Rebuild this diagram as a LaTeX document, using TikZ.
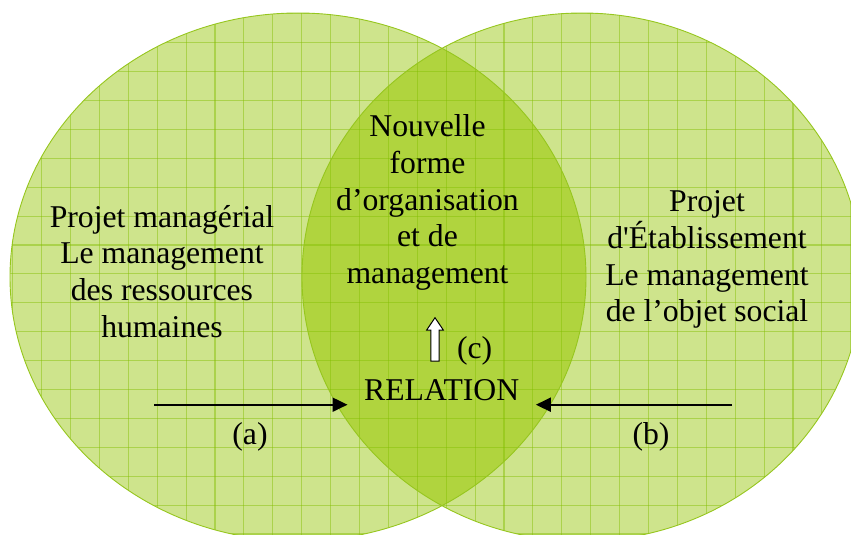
\documentclass[tikz,border=0pt]{standalone}
\usepackage{fontspec}
\setmainfont{Liberation Serif}
\usetikzlibrary{arrows.meta}
\definecolor{lightfill}{RGB}{206,228,140}
\definecolor{overfill}{RGB}{176,212,62}
\definecolor{edgegreen}{RGB}{150,198,30}
\definecolor{gridgreen}{RGB}{130,190,0}
\newcommand{\straightq}{\XeTeXglyph\XeTeXcharglyph"27\relax}
\begin{document}
\begin{tikzpicture}[x=1pt,y=-1pt,
  lbl/.style={font=\fontsize{31.7}{36.6}\selectfont, align=center, inner sep=0pt, anchor=base},
  gridline/.style={draw=gridgreen, opacity=0.45, line width=1.1pt},
  blackarrow/.style={line width=2pt, -{Triangle[length=15pt,width=14pt]}},
]
\useasboundingbox (0,0) rectangle (851,535);
\clip (0,0) rectangle (851,535);
% ellipses
\fill[lightfill] (298,277) ellipse [x radius=288pt, y radius=264pt];
\fill[lightfill] (582,277) ellipse [x radius=280pt, y radius=264pt];
\begin{scope}
  \clip (298,277) ellipse [x radius=288pt, y radius=264pt];
  \fill[overfill] (582,277) ellipse [x radius=280pt, y radius=264pt];
\end{scope}
% grid
\begin{scope}
  \clip (298,277) ellipse [x radius=288pt, y radius=264pt]
        (582,277) ellipse [x radius=280pt, y radius=264pt];
  \foreach \i in {-11,...,20} {
    \draw[gridline] ({301.7+28.9*\i},0) -- ({301.7+28.9*\i},535);
  }
  \foreach \j in {-2,...,18} {
    \draw[gridline] (0,{42.7+28.9*\j}) -- (851,{42.7+28.9*\j});
  }
\end{scope}
\draw[edgegreen, line width=0.9pt] (298,277) ellipse [x radius=288pt, y radius=264pt];
\draw[edgegreen, line width=0.9pt] (582,277) ellipse [x radius=280pt, y radius=264pt];
% texts (base anchor = baseline of the last line)
\node[lbl] (left) at (162,337) {Projet managérial\\Le management\\des ressources\\humaines};
\node[lbl] (center) at (427.5,283.3) {Nouvelle\\forme\\d’organisation\\et de\\management};
\node[lbl] (right) at (707,321.7) {Projet\\d\straightq Établissement\\Le management\\de l’objet social};
\node[lbl, inner xsep=16.5pt] (rel) at (441.7,400) {RELATION};
\node[lbl] (la) at (250,444) {(a)};
\node[lbl] (lb) at (651,444) {(b)};
\node[lbl] (lc) at (474.7,358) {(c)};
% arrows
\coordinate (aS) at (154,404.7);
\coordinate (bS) at (732,404.7);
\draw[blackarrow] (aS) -- (aS -| rel.west);
\draw[blackarrow] (bS) -- (bS -| rel.east);
% white arrow (c)
\draw[fill=white, line width=1pt, line join=miter]
  (430.8,361) -- (430.8,330) -- (426.7,330) -- (435,317.7) -- (443.3,330)
  -- (439.2,330) -- (439.2,361) -- cycle;
\end{tikzpicture}
\end{document}
